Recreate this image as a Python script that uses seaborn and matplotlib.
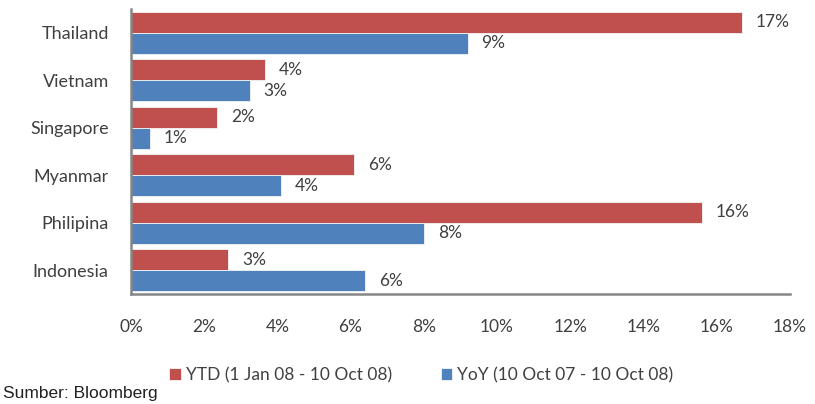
import pandas as pd
import seaborn as sns
import matplotlib.pyplot as plt

countries = ["Thailand", "Vietnam", "Singapore", "Myanmar", "Philipina", "Indonesia"]
ytd = [16.7, 3.65, 2.35, 6.1, 15.6, 2.65]
yoy = [9.2, 3.25, 0.52, 4.1, 8.0, 6.4]
series = ["YTD (1 Jan 08 - 10 Oct 08)", "YoY (10 Oct 07 - 10 Oct 08)"]
xticks = [0, 2, 4, 6, 8, 10, 12, 14, 16, 18]

df = pd.DataFrame(
    {
        "country": countries * 2,
        "value": ytd + yoy,
        "series": [series[0]] * len(countries) + [series[1]] * len(countries),
    }
)

sns.set_style("white")
plt.rcParams["font.family"] = ["Lato", "DejaVu Sans"]
text_col = "#404040"
axis_col = "#868686"
fs = 12.5

fig = plt.figure(figsize=(8.15, 4.04), dpi=100)
ax = fig.add_axes([0.1607, 0.2723, 0.8083, 0.7054])

sns.barplot(
    data=df,
    x="value",
    y="country",
    hue="series",
    orient="h",
    palette=["#C0504D", "#4F81BD"],
    saturation=1,
    width=0.88,
    edgecolor="#f4f4f4",
    linewidth=0.6,
    ax=ax,
)

# value labels, rounded like the original
for cont, vals in zip(ax.containers, [ytd, yoy]):
    ax.bar_label(
        cont,
        labels=["{}%".format(round(v)) for v in vals],
        padding=10,
        fontsize=fs,
        color=text_col,
    )

ax.set_xlim(0, 18)
ax.set_ylim(len(countries) - 0.5, -0.5)
ax.set_xticks(xticks)
ax.set_xticklabels(["{}%".format(t) for t in xticks])
ax.set_yticks([i - 0.5 for i in range(len(countries) + 1)], minor=True)
ax.tick_params(axis="y", which="major", length=0, pad=16, labelsize=13, labelcolor=text_col)
ax.tick_params(axis="y", which="minor", length=5, width=1.6, color=axis_col, direction="out")
ax.tick_params(axis="x", length=4, width=1.2, color=axis_col, direction="out", pad=14,
               labelsize=fs, labelcolor=text_col)
ax.set_xlabel("")
ax.set_ylabel("")

for side in ["top", "right"]:
    ax.spines[side].set_visible(False)
for side in ["left", "bottom"]:
    ax.spines[side].set_color(axis_col)
    ax.spines[side].set_linewidth(1.8)

handles, labels = ax.get_legend_handles_labels()
ax.get_legend().remove()
fig.legend(
    handles,
    labels,
    loc="center",
    bbox_to_anchor=(0.517, 0.072),
    ncol=2,
    frameon=False,
    fontsize=fs,
    labelcolor=text_col,
    handlelength=0.65,
    handleheight=0.65,
    handletextpad=0.3,
    columnspacing=2.8,
)

fig.text(0.004, 0.016, "Sumber: Bloomberg", fontsize=12.5, color="#202020",
         family=["Liberation Sans", "DejaVu Sans"])

fig.savefig("out.png", dpi=100)
